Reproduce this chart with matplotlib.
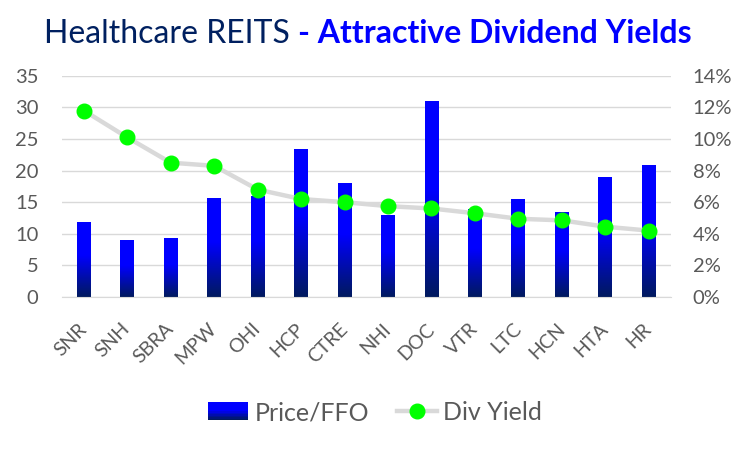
import numpy as np
import matplotlib
matplotlib.use("Agg")
import matplotlib.pyplot as plt
from matplotlib.colors import LinearSegmentedColormap
from matplotlib.legend_handler import HandlerBase
from matplotlib.patches import Rectangle, Patch
from matplotlib.lines import Line2D
from matplotlib.ticker import PercentFormatter

plt.rcParams['font.family'] = ['Lato', 'DejaVu Sans']

# data
tickers = ['SNR', 'SNH', 'SBRA', 'MPW', 'OHI', 'HCP', 'CTRE', 'NHI', 'DOC',
           'VTR', 'LTC', 'HCN', 'HTA', 'HR']
price_ffo = [11.9, 9.0, 9.3, 15.7, 15.9, 23.4, 18.0, 13.0, 31.0, 13.9, 15.5, 13.4, 19.0, 20.9]
div_yield = [11.8, 10.1, 8.5, 8.3, 6.8, 6.2, 6.0, 5.75, 5.6, 5.3, 4.95, 4.85, 4.45, 4.2]

NAVY = '#002060'
BLUE = '#0000ff'
GREY_TXT = '#595959'
GRID = '#d9d9d9'

bar_cmap = LinearSegmentedColormap.from_list('barfade', [(0, '#001a5e'), (0.55, BLUE), (1, BLUE)])

fig = plt.figure(figsize=(7.5, 4.51), dpi=100)
ax = fig.add_axes([0.0827, 0.3415, 0.8113, 0.4905])
ax2 = ax.twinx()

x = np.arange(len(tickers))
bars = ax.bar(x, price_ffo, width=0.32, color=BLUE, zorder=2)

# vertical gradient inside every bar
grad = np.linspace(0, 1, 256).reshape(-1, 1)
for b in bars:
    im = ax.imshow(grad, cmap=bar_cmap, origin='lower', aspect='auto',
                   extent=[b.get_x(), b.get_x() + b.get_width(), 0, b.get_height()],
                   zorder=2.1)
    im.set_clip_path(b)

ax.set_xlim(-0.5, len(tickers) - 0.5)
ax.set_ylim(0, 35)
ax.set_yticks(np.arange(0, 36, 5))
ax.grid(axis='y', color=GRID, linewidth=1, zorder=0)
ax.set_axisbelow(True)

ax2.plot(x, div_yield, color=GRID, linewidth=3.2, marker='o', markersize=10.5,
         markerfacecolor='#00ff00', markeredgecolor='#00ff00', zorder=3)
ax2.set_ylim(0, 14)
ax2.set_yticks(np.arange(0, 15, 2))
ax2.yaxis.set_major_formatter(PercentFormatter(decimals=0))

for a in (ax, ax2):
    for s in a.spines.values():
        s.set_visible(False)
ax.spines['bottom'].set_visible(True)
ax.spines['bottom'].set_color(GRID)

ax.set_xticks(x)
ax.set_xticklabels(tickers, rotation=45, ha='right', va='center', rotation_mode='anchor')
ax.tick_params(axis='x', length=0, pad=21, labelsize=14, labelcolor=GREY_TXT)
ax.tick_params(axis='y', length=0, pad=17, labelsize=14.5, labelcolor=GREY_TXT)
ax2.tick_params(axis='y', length=0, pad=16, labelsize=14.5, labelcolor=GREY_TXT)
ax.set_zorder(ax2.get_zorder() - 1)
ax2.patch.set_visible(False)
ax.patch.set_visible(False)


class GradientHandler(HandlerBase):
    def create_artists(self, legend, orig, xd, yd, w, h, fontsize, trans):
        strips = []
        n = 12
        for i in range(n):
            r = Rectangle((xd, yd + h * i / n), w, h / n + 0.3,
                          facecolor=bar_cmap(i / (n - 1)), edgecolor='none', transform=trans)
            strips.append(r)
        return strips


bar_handle = Patch(facecolor=BLUE)
line_handle = Line2D([], [], color=GRID, linewidth=3.2, marker='o', markersize=10.5,
                     markerfacecolor='#00ff00', markeredgecolor='#00ff00')
fig.legend([bar_handle, line_handle], ['Price/FFO', 'Div Yield'],
           loc='center', bbox_to_anchor=(0.5, 0.085), ncol=2, frameon=False,
           fontsize=18, labelcolor=GREY_TXT, handlelength=1.6, handleheight=0.7,
           handletextpad=0.25, columnspacing=1.1,
           handler_map={bar_handle: GradientHandler()})

# two-part title, centred as a whole
t1 = fig.text(0, 0.905, 'Healthcare REITS ', fontsize=23, color=NAVY, va='baseline')
t2 = fig.text(0, 0.905, '- Attractive Dividend Yields', fontsize=23, color=BLUE,
              weight='bold', va='baseline')
fig.canvas.draw()
r = fig.canvas.get_renderer()
w1 = t1.get_window_extent(r).width / fig.bbox.width
w2 = t2.get_window_extent(r).width / fig.bbox.width
start = 0.49 - (w1 + w2) / 2
t1.set_x(start)
t2.set_x(start + w1)

fig.savefig('out.png', dpi=100)
